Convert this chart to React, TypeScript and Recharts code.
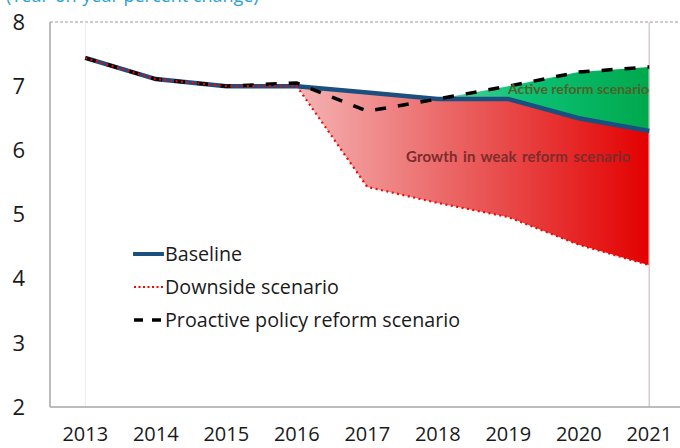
import {
  ComposedChart,
  Line,
  Area,
  XAxis,
  YAxis,
  ReferenceLine,
} from 'recharts';

const years = ['2013', '2014', '2015', '2016', '2017', '2018', '2019', '2020', '2021'];
const baseline = [7.44, 7.11, 7.0, 7.0, 6.9, 6.8, 6.8, 6.5, 6.3];
const downside = [7.44, 7.11, 7.0, 7.0, 5.43, 5.18, 4.96, 4.53, 4.21];
const proactive = [7.44, 7.11, 7.0, 7.05, 6.61, 6.8, 7.0, 7.22, 7.3];
const yTicks = [2, 3, 4, 5, 6, 7, 8];

// weak-reform band starts in 2016, active-reform band once proactive passes baseline
const weakStart = 3;
const activeStart = 5;

const data = years.map((year, i) => ({
  year,
  baseline: baseline[i],
  downside: downside[i],
  proactive: proactive[i],
  weak: i >= weakStart ? [downside[i], baseline[i]] : null,
  active: i >= activeStart ? [baseline[i], proactive[i]] : null,
}));

const legendItems = [
  { label: 'Baseline', color: '#1b4f80', width: 4, dash: undefined },
  { label: 'Downside scenario', color: '#ff0000', width: 2, dash: '2 2.5' },
  { label: 'Proactive policy reform scenario', color: '#000000', width: 3.5, dash: '9 9' },
];

const font = '"Open Sans", sans-serif';

function LegendBox() {
  return (
    <div style={{ position: 'absolute', left: 133, top: 237, fontFamily: font, fontSize: 19.7, color: '#1a1a1a' }}>
      {legendItems.map((it) => (
        <div key={it.label} style={{ display: 'flex', alignItems: 'center', height: 33, whiteSpace: 'nowrap' }}>
          <svg width={31} height={10} style={{ marginRight: 1 }}>
            <line
              x1={1}
              y1={5}
              x2={30}
              y2={5}
              stroke={it.color}
              strokeWidth={it.width}
              strokeDasharray={it.dash}
              strokeLinecap={it.dash ? 'butt' : 'round'}
            />
          </svg>
          <span>{it.label}</span>
        </div>
      ))}
    </div>
  );
}

export default function App() {
  return (
    <div style={{ position: 'absolute', left: 0, top: 0, width: 680, height: 448, overflow: 'hidden', background: '#fff' }}>
      <div
        style={{
          position: 'absolute',
          left: 6,
          top: -15,
          fontFamily: font,
          fontSize: 18,
          lineHeight: '20px',
          color: '#2a9fd6',
          whiteSpace: 'nowrap',
        }}
      >
        (Year-on-year percent change)
      </div>
      <ComposedChart width={690} height={448} data={data} margin={{ top: 22, right: 5.5, left: 0, bottom: 0 }}>
        <defs>
          <linearGradient id="weakFill" x1="0" y1="0" x2="1" y2="0">
            <stop offset="0%" stopColor="#f4b4b4" />
            <stop offset="50%" stopColor="#ea5a5a" />
            <stop offset="100%" stopColor="#e30000" />
          </linearGradient>
          <linearGradient id="activeFill" x1="0" y1="0" x2="1" y2="0">
            <stop offset="0%" stopColor="#5fd2a0" />
            <stop offset="40%" stopColor="#0cc277" />
            <stop offset="100%" stopColor="#00a84c" />
          </linearGradient>
        </defs>
        <XAxis
          dataKey="year"
          scale="band"
          height={41}
          tickLine={false}
          axisLine={{ stroke: '#a6a6a6', strokeWidth: 1.5 }}
          tickMargin={14}
          interval={0}
          tick={{ fill: '#1a1a1a', fontSize: 20, fontFamily: font }}
        />
        <YAxis
          domain={[2, 8]}
          ticks={yTicks}
          width={50}
          tickLine={false}
          axisLine={{ stroke: '#a6a6a6', strokeWidth: 1.5 }}
          tickMargin={19}
          tick={{ fill: '#1a1a1a', fontSize: 22, fontFamily: font }}
        />
        <ReferenceLine y={8} stroke="#9a9a9a" strokeDasharray="3 2" />
        <ReferenceLine x="2013" stroke="#ececec" />
        <ReferenceLine x="2021" stroke="#d8cccc" strokeWidth={1.5} />
        <Area dataKey="weak" stroke="none" fill="url(#weakFill)" fillOpacity={1} isAnimationActive={false} />
        <Area dataKey="active" stroke="none" fill="url(#activeFill)" fillOpacity={1} isAnimationActive={false} />
        <Line
          dataKey="baseline"
          stroke="#1b4f80"
          strokeWidth={4.5}
          dot={false}
          type="linear"
          isAnimationActive={false}
        />
        <Line
          dataKey="proactive"
          stroke="#000000"
          strokeWidth={3.5}
          strokeDasharray="11 12"
          dot={false}
          type="linear"
          isAnimationActive={false}
        />
        <Line
          dataKey="downside"
          stroke="#ff0000"
          strokeWidth={2.2}
          strokeDasharray="2 3.5"
          dot={false}
          type="linear"
          isAnimationActive={false}
        />
      </ComposedChart>
      <LegendBox />
      <div
        style={{
          position: 'absolute',
          left: 508,
          top: 80,
          fontFamily: 'Lato, sans-serif',
          fontWeight: 700,
          fontSize: 14,
          color: '#4f6228',
          whiteSpace: 'nowrap',
        }}
      >
        Active reform scenario
      </div>
      <div
        style={{
          position: 'absolute',
          left: 406,
          top: 147,
          fontFamily: 'Lato, sans-serif',
          fontWeight: 700,
          fontSize: 15,
          letterSpacing: 0.15,
          wordSpacing: 1.5,
          color: '#7e2b2b',
          whiteSpace: 'nowrap',
        }}
      >
        Growth in weak reform scenario
      </div>
    </div>
  );
}
